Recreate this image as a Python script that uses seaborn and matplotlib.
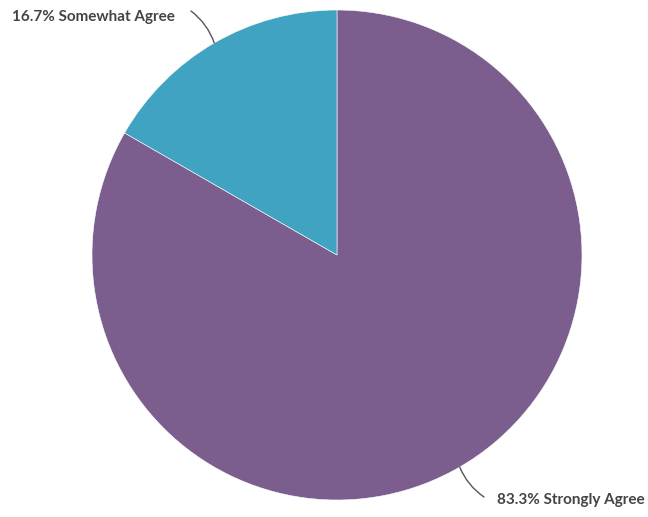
import numpy as np
import matplotlib
matplotlib.use("Agg")
import matplotlib.pyplot as plt
import seaborn as sns

# Survey response shares
categories = ["Strongly Agree", "Somewhat Agree"]
shares = [83.3, 16.7]
colors = ["#7B5E8E", "#40A3C2"]

sns.set_theme(style="white")
plt.rcParams["font.family"] = ["Lato", "DejaVu Sans"]

W, H = 648, 517
fig = plt.figure(figsize=(W / 100, H / 100), dpi=100)
ax = fig.add_axes([0, 0, 1, 1])

cx, cy, r = 337, H - 255, 245
start = 90
ax.pie(shares, colors=colors, startangle=start, counterclock=False,
       center=(cx, cy), radius=r, frame=True,
       wedgeprops=dict(linewidth=0.4, edgecolor="white"))
ax.set_xlim(0, W)
ax.set_ylim(0, H)
ax.set_aspect("equal")
ax.axis("off")

# Leader lines from wedge midpoints to labels
cum = np.cumsum([0] + shares)
label_spec = {
    "Strongly Agree": dict(end=(484, H - 497), text=(497, H - 500), rad=-0.15),
    "Somewhat Agree": dict(end=(191, H - 11), text=(12, H - 17), rad=-0.15),
}
for i, (cat, val) in enumerate(zip(categories, shares)):
    mid = start - 360 * (cum[i] + val / 2) / 100
    ex = cx + r * np.cos(np.radians(mid))
    ey = cy + r * np.sin(np.radians(mid))
    spec = label_spec[cat]
    ax.annotate("", xy=(ex, ey), xytext=spec["end"],
                arrowprops=dict(arrowstyle="-", color="#555555", lw=1.0,
                                shrinkA=0, shrinkB=0,
                                connectionstyle=f"arc3,rad={spec['rad']}"))
    ax.text(spec["text"][0], spec["text"][1], f"{val:.1f}% {cat}",
            ha="left", va="center", fontsize=11, fontweight="bold",
            color="#444444")

fig.savefig("out.png", dpi=100)
